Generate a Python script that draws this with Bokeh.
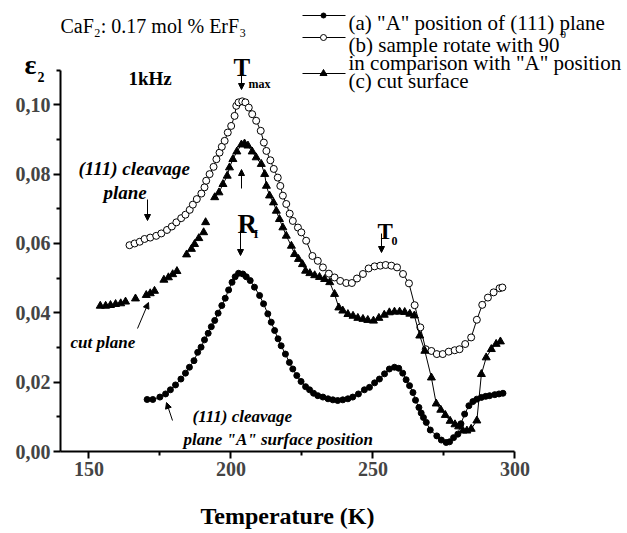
from bokeh.plotting import figure
from bokeh.models import Range1d, FixedTicker, CustomJSTickFormatter, Label, Arrow, NormalHead
from bokeh.embed import file_html
from bokeh.resources import INLINE

# ---------------- data ----------------
a_T = [170.5,172.5,175.0,177.0,178.7,180.5,182.4,184.0,185.4,187.0,
       188.3,189.5,190.7,192.0,193.1,194.3,195.5,196.8,198.0,199.2,
       200.4,201.5,202.7,204.2,205.4,206.8,208.3,210.1,211.5,213.0,
       214.2,215.4,216.6,217.7,219.2,220.6,221.8,223.2,224.7,226.3,
       227.7,229.1,230.6,232.4,234.2,235.9,237.6,239.4,241.2,242.9,
       244.9,247.0,248.8,250.6,252.3,254.1,255.8,257.6,259.1,260.5,
       261.7,262.9,264.1,265.0,266.2,267.0,267.8,268.8,270.2,272.5,
       274.1,275.8,277.0,278.4,279.9,281.0,282.3,283.8,285.2,286.6,
       288.2,289.7,291.1,292.9,294.4,295.8]
a_eps = [0.0150,0.0150,0.0157,0.0166,0.0178,0.0192,0.0209,0.0226,0.0243,0.0262,
         0.0286,0.0301,0.0322,0.0341,0.0360,0.0378,0.0399,0.0421,0.0442,0.0466,
         0.0488,0.0504,0.0514,0.0512,0.0504,0.0493,0.0474,0.0450,0.0426,0.0397,
         0.0373,0.0349,0.0325,0.0305,0.0281,0.0257,0.0238,0.0219,0.0202,0.0187,
         0.0178,0.0168,0.0161,0.0157,0.0152,0.0149,0.0147,0.0149,0.0152,0.0157,
         0.0166,0.0178,0.0185,0.0198,0.0209,0.0224,0.0238,0.0243,0.0240,0.0226,
         0.0207,0.0190,0.0170,0.0148,0.0127,0.0111,0.0098,0.0084,0.0062,0.0045,
         0.0033,0.0026,0.0028,0.0040,0.0050,0.0080,0.0108,0.0132,0.0144,0.0151,
         0.0156,0.0159,0.0161,0.0164,0.0166,0.0168]

b_T = [164.3,166.1,167.9,169.6,171.6,173.7,175.5,177.5,179.2,180.8,
       182.5,184.0,185.5,186.6,188.0,189.6,190.7,191.3,192.5,193.9,
       194.9,196.0,196.8,197.8,198.9,200.1,201.3,201.9,202.7,204.0,
       205.1,206.3,207.5,208.9,210.5,211.6,212.5,213.9,215.1,216.5,
       217.4,218.3,219.5,220.7,221.8,223.6,224.8,226.5,228.7,230.6,
       232.4,234.5,236.5,238.5,240.6,242.6,244.4,246.5,248.5,250.6,
       252.6,254.5,256.5,258.5,260.6,262.7,264.7,266.7,268.6,270.6,
       272.5,274.6,276.7,278.8,280.5,282.5,284.6,286.6,288.5,290.5,
       292.5,294.6,295.6]
b_eps = [0.0595,0.0600,0.0605,0.0613,0.0617,0.0622,0.0629,0.0639,0.0649,0.0661,
         0.0673,0.0683,0.0697,0.0712,0.0728,0.0744,0.0762,0.0781,0.0800,0.0821,
         0.0843,0.0862,0.0879,0.0896,0.0920,0.0939,0.0968,0.0997,0.1007,0.1010,
         0.1007,0.0992,0.0973,0.0954,0.0925,0.0891,0.0867,0.0840,0.0815,0.0790,
         0.0766,0.0738,0.0714,0.0686,0.0665,0.0646,0.0632,0.0608,0.0564,0.0550,
         0.0531,0.0513,0.0502,0.0492,0.0486,0.0486,0.0499,0.0512,0.0528,0.0534,
         0.0536,0.0538,0.0536,0.0531,0.0512,0.0485,0.0422,0.0358,0.0295,0.0290,
         0.0281,0.0281,0.0288,0.0292,0.0295,0.0310,0.0329,0.0380,0.0423,0.0444,
         0.0459,0.0471,0.0473]

c_T = [154.0,155.9,157.6,159.4,161.2,162.9,166.4,170.2,171.6,173.1,
       176.4,178.0,179.5,181.0,184.4,186.1,187.2,188.7,190.4,191.1,
       194.3,195.8,197.2,198.7,199.5,200.7,202.1,203.7,204.8,206.0,
       207.5,208.9,210.7,211.9,212.5,213.6,215.0,216.0,217.1,218.3,
       219.5,221.3,222.4,223.8,225.2,226.3,227.8,229.5,231.2,233.0,
       234.8,236.5,238.0,239.4,241.2,243.0,244.7,246.5,248.2,250.2,
       252.1,254.0,255.8,257.6,259.4,261.2,263.0,264.6,266.5,268.3,
       270.6,272.3,273.9,275.5,277.2,278.9,280.2,281.7,283.1,284.6,
       286.6,288.2,289.9,291.7,293.4,294.9]
c_eps = [0.0420,0.0420,0.0422,0.0425,0.0427,0.0432,0.0441,0.0451,0.0456,0.0463,
         0.0495,0.0502,0.0511,0.0520,0.0568,0.0584,0.0598,0.0615,0.0632,0.0661,
         0.0733,0.0747,0.0771,0.0795,0.0819,0.0843,0.0865,0.0885,0.0888,0.0882,
         0.0865,0.0848,0.0829,0.0800,0.0766,0.0738,0.0718,0.0694,0.0670,0.0646,
         0.0622,0.0593,0.0569,0.0555,0.0540,0.0521,0.0514,0.0508,0.0503,0.0497,
         0.0488,0.0454,0.0415,0.0406,0.0396,0.0391,0.0385,0.0382,0.0379,0.0377,
         0.0385,0.0394,0.0401,0.0403,0.0403,0.0402,0.0397,0.0392,0.0334,0.0290,
         0.0213,0.0138,0.0120,0.0105,0.0088,0.0078,0.0072,0.0060,0.0060,0.0065,
         0.0089,0.0223,0.0271,0.0295,0.0310,0.0317]
c_line_from = 194.0   # left part of series (c) is drawn as markers only

x_ticks = [150, 200, 250, 300]
x_minor = [175, 225, 275]
y_ticks = [0.00, 0.02, 0.04, 0.06, 0.08, 0.10]
y_minor = [0.01, 0.03, 0.05, 0.07, 0.09, 0.11]
x_bounds = (140, 300)
y_bounds = (0.0, 0.11)

legend_labels = ['(a) "A" position of (111) plane',
                 '(b) sample rotate with 90',
                 'in comparison with "A" position',
                 '(c) cut surface']

# ---------------- layout ----------------
W, H = 627, 533
AX_X, AX_Y = 60, 451          # pixel position of the y axis / x axis
PX_PER_K = 2.84
PX_PER_U = 3467.0

def X(px):
    return x_bounds[0] + (px - AX_X) / PX_PER_K

def Y(py):
    return (AX_Y - py) / PX_PER_U

p = figure(width=W, height=H, output_backend="svg", toolbar_location=None,
           x_range=Range1d(X(0), X(W)), y_range=Range1d(Y(H), Y(0)),
           min_border=0, min_border_left=0, min_border_right=0,
           min_border_top=0, min_border_bottom=0)
p.outline_line_color = None
p.xgrid.visible = False
p.ygrid.visible = False
p.background_fill_color = "white"
p.border_fill_color = "white"

for ax in (p.xaxis[0], p.yaxis[0]):
    ax.axis_line_width = 2
    ax.major_tick_line_width = 2
    ax.minor_tick_line_width = 2
    ax.major_tick_in = 0
    ax.major_tick_out = 7
    ax.minor_tick_in = 0
    ax.minor_tick_out = 4
    ax.major_label_text_font = "Liberation Serif"
    ax.major_label_text_font_style = "bold"
    ax.major_label_text_font_size = "20px"
    ax.major_label_standoff = 3

p.xaxis[0].ticker = FixedTicker(ticks=x_ticks, minor_ticks=x_minor)
p.yaxis[0].ticker = FixedTicker(ticks=y_ticks, minor_ticks=y_minor)
p.xaxis[0].bounds = x_bounds
p.yaxis[0].bounds = y_bounds
p.xaxis[0].fixed_location = y_bounds[0]
p.yaxis[0].fixed_location = x_bounds[0]
p.yaxis[0].formatter = CustomJSTickFormatter(code="return tick.toFixed(2).replace('.', ',');")

# ---------------- series ----------------
p.line(a_T, a_eps, line_color="black", line_width=1)
p.scatter(a_T, a_eps, marker="circle", size=6, fill_color="black", line_color="black")

p.line(b_T, b_eps, line_color="black", line_width=1)
p.scatter(b_T, b_eps, marker="circle", size=7, fill_color="white", line_color="black", line_width=1)

c_lx = [t for t in c_T if t >= c_line_from]
c_ly = [v for t, v in zip(c_T, c_eps) if t >= c_line_from]
p.line(c_lx, c_ly, line_color="black", line_width=1)
p.scatter(c_T, c_eps, marker="triangle", size=8, fill_color="black", line_color="black")

# ---------------- legend (drawn by hand) ----------------
leg_rows = [15, 37, 73]
leg_markers = [("circle", 5, "black"), ("circle", 6, "white"), ("triangle", 7, "black")]
for row, (mk, sz, fc) in zip(leg_rows, leg_markers):
    p.line([X(302), X(345)], [Y(row), Y(row)], line_color="black", line_width=1)
    p.scatter([X(323)], [Y(row)], marker=mk, size=sz, fill_color=fc, line_color="black")

def lab(px, py, text, size, style="normal", align="left"):
    p.add_layout(Label(x=X(px), y=Y(py), text=text, text_font="Liberation Serif",
                       text_font_size=size, text_font_style=style,
                       text_align=align, text_baseline="alphabetic", text_color="black"))

lab(348, 22, legend_labels[0], "21px")
lab(348, 44, legend_labels[1], "21px")
lab(560, 34, "0", "11px")
lab(348, 62, legend_labels[2], "21px")
lab(348, 80, legend_labels[3], "21px")

# ---------------- annotations ----------------
lab(60, 25, "CaF\u2082: 0.17 mol % ErF\u2083", "20px")
lab(24, 64, "\u03b5", "28px", "bold")
lab(37, 76, "2", "14px", "bold")
lab(128, 78, "1kHz", "19px", "bold")
lab(233, 67, "T", "25px", "bold")
lab(248, 83, "max", "12px", "bold")
lab(78, 168, "(111) cleavage", "19px", "bold italic")
lab(103, 192, "plane", "19px", "bold italic")
lab(237, 223, "R", "27px", "bold")
lab(253, 233, "I", "13px", "bold")
lab(377, 231, "T", "23px", "bold")
lab(391, 240, "0", "12px", "bold")
lab(70, 342, "cut  plane", "17px", "bold italic")
lab(192, 416, "(111) cleavage", "17px", "bold italic")
lab(183, 439, 'plane "A" surface position', "17px", "bold italic")
lab(287, 515, "Temperature (K)", "24px", "bold", "center")

def arrow(x1, y1, x2, y2):
    p.add_layout(Arrow(end=NormalHead(size=6, fill_color="black", line_color="black"),
                       x_start=X(x1), y_start=Y(y1), x_end=X(x2), y_end=Y(y2),
                       line_color="black", line_width=1))

arrow(241, 69, 241, 89)
arrow(147, 199, 147, 220)
arrow(241, 188, 241, 169)
arrow(240, 230, 240, 255)
arrow(381, 233, 381, 252)
arrow(137, 328, 148, 302)
arrow(172, 420, 166, 402)

open("out.html", "w").write(file_html(p, INLINE))
